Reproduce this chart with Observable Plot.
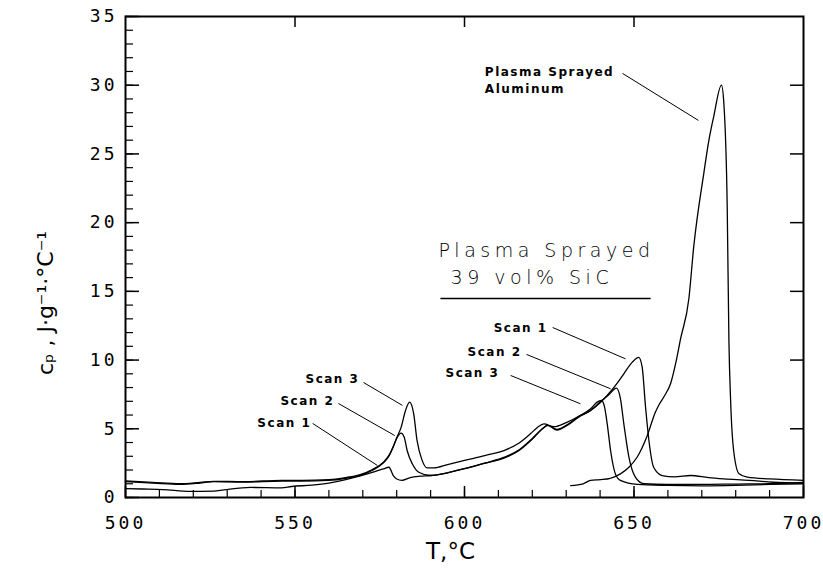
<!DOCTYPE html>
<html><head><meta charset="utf-8">
<script src="https://cdn.jsdelivr.net/npm/d3@7"></script>
<script src="https://cdn.jsdelivr.net/npm/@observablehq/plot@0.6"></script>
<style>body{margin:0;background:#fff}svg{display:block}</style>
</head><body><div id="chart"></div>
<script>
// Temperature (°C) and specific heat (J·g⁻¹·°C⁻¹)
const scan1T = [500,505,511,519,526,529,537,546,549,555,560,565,569,573,576,577.7,579,580,581.5,584,587,590,595,600,606,612,616,620,622.5,624.5,627.3,630,634,637,640,642,645,647,649.5,651.4,652.4,653.4,654.4,655.8,658.3,662,666.7,672,676.5,684,691,700];
const scan1Cp = [0.65,0.62,0.58,0.44,0.46,0.55,0.73,0.7,0.8,0.9,1.05,1.3,1.55,1.84,2.08,2.2,1.6,1.35,1.25,1.45,1.55,1.6,1.8,2.1,2.5,2.95,3.45,4.3,4.9,5.25,4.95,5.25,5.95,6.3,6.9,7.4,8.3,9.0,9.85,10.2,9.5,6.6,4.15,2.2,1.6,1.5,1.6,1.45,1.36,1.25,1.11,1.05];

const scan2T = [500,508,516,522,526,535,546,552,560,565,569,573,576,577.7,579,580,581.3,582.2,583.1,584.6,586.5,590,595,600,606,612,616,620,623,624.6,627.3,630,634,637,640,642.5,644.8,646,647,648.5,650.4,652.9,660,670,680,690,700];
const scan2Cp = [1.15,1.05,0.95,1.05,1.15,1.12,1.2,1.2,1.25,1.4,1.6,2.0,2.5,3.0,3.7,4.3,4.68,4.4,3.4,2.45,1.84,1.6,1.8,2.1,2.5,2.9,3.4,4.25,5.0,5.25,4.9,5.2,5.9,6.3,6.95,7.45,7.96,7.2,5.36,2.93,1.48,1.0,0.95,0.95,0.98,1.0,1.1];

const scan3T = [500,508,516,522,526,535,546,552,560,565,569,573,576,577.7,579.1,580.1,581.3,582.6,583.8,585,586,587.5,589,591,595,600,606,612,616,619.5,621.5,623.4,626.4,630,634,637.2,639.1,640.4,641.3,642.1,643.1,644.5,646,651,660,670,680,690,700];
const scan3Cp = [1.2,1.1,1.0,1.1,1.18,1.15,1.25,1.25,1.3,1.45,1.65,2.05,2.55,3.06,3.78,4.4,5.1,6.33,6.94,6.1,4.15,2.7,2.15,2.15,2.4,2.7,3.05,3.45,3.95,4.65,5.1,5.36,5.15,5.45,5.95,6.45,6.94,7.06,6.6,5.36,3.4,1.72,1.24,0.95,0.88,0.85,0.88,0.95,1.0];

const alT = [631.3,635,637.2,640,643,646,648.5,650.9,653.9,656.3,657.5,659,660.8,662.5,663.7,666.2,667.6,670.6,672.1,673.5,675.8,676.5,677.5,678,678.5,679.4,681,683.4,690,700];
const alCp = [0.87,1.0,1.24,1.3,1.4,1.72,2.2,2.93,4.5,6.2,6.8,7.4,8.3,10.0,11.5,14.5,18.2,23.6,26,27.7,30,28.7,21.1,11.4,7.06,3.4,1.72,1.48,1.35,1.25];

const xTicks = [500,550,600,650,700];
const yTicks = [0,5,10,15,20,25,30,35];
const xMinor = d3.range(500, 701, 10);
const yMinor = d3.range(0, 36, 1);

const rows = (series, T, cp) => T.map((t, i) => ({series, T: t, cp: cp[i]}));
const data = [
  ...rows("Scan 1", scan1T, scan1Cp),
  ...rows("Scan 2", scan2T, scan2Cp),
  ...rows("Scan 3", scan3T, scan3Cp),
  ...rows("Plasma Sprayed Aluminum", alT, alCp)
];

const blank = () => "";
const chart = Plot.plot({
  width: 823, height: 570,
  marginLeft: 125, marginRight: 20, marginTop: 16, marginBottom: 73,
  x: {domain: [500, 700], label: null},
  y: {domain: [0, 35], label: null},
  style: {fontFamily: "DejaVu Sans", background: "#fff", color: "#000"},
  marks: [
    // ticks
    Plot.axisY(yMinor, {tickSize: -8, tickFormat: blank, label: null, strokeWidth: 1.2}),
    Plot.axisY(yTicks, {tickSize: -14, tickFormat: blank, label: null, strokeWidth: 1.5}),
    Plot.axisY(yTicks, {tickSize: 0, tickPadding: 8, label: null, fontSize: 18, fontFamily: "DejaVu Sans Mono"}),
    Plot.axisY(yTicks.slice(1, -1), {anchor: "right", tickSize: -14, tickFormat: blank, label: null, strokeWidth: 1.5}),
    Plot.axisX(xMinor, {tickSize: -7, tickFormat: blank, label: null, strokeWidth: 1.2}),
    Plot.axisX(xTicks, {tickSize: -11, tickFormat: blank, label: null, strokeWidth: 1.5}),
    Plot.axisX(xTicks, {tickSize: 0, tickPadding: 19, label: null, fontSize: 18, fontFamily: "DejaVu Sans Mono"}),
    Plot.axisX(xTicks.slice(1, -1), {anchor: "top", tickSize: -10, tickFormat: blank, label: null, strokeWidth: 1.5}),
    Plot.frame({strokeWidth: 2}),
    // curves
    Plot.line(data, {x: "T", y: "cp", z: "series", stroke: "#000", strokeWidth: 1.3, curve: "monotone-x"}),
    // axis titles
    Plot.text(["cₚ , J·g⁻¹·°C⁻¹"], {frameAnchor: "left", textAnchor: "middle", lineAnchor: "middle", rotate: -90, dx: -80, dy: 46, fontSize: 22}),
    Plot.text(["T,°C"], {frameAnchor: "bottom", textAnchor: "middle", lineAnchor: "middle", dx: -14, dy: 54, fontSize: 23}),
    // main annotation
    Plot.text(["Plasma Sprayed"], {x: 592.3, y: 17.93, textAnchor: "start", fontSize: 19, fontWeight: 200}),
    Plot.text(["39 vol% SiC"], {x: 595.9, y: 15.99, textAnchor: "start", fontSize: 19, fontWeight: 200}),
    Plot.link([0], {x1: 592.9, x2: 654.9, y1: 14.48, y2: 14.48, stroke: "#000", strokeWidth: 1.5}),
    // aluminum label
    Plot.text(["Plasma Sprayed\nAluminum"], {x: 606, y: 31.0, textAnchor: "start", lineAnchor: "middle", lineHeight: 1.4, fontSize: 12, fontWeight: "bold", dy: 8}),
    Plot.link([0], {x1: 646.6, y1: 30.86, x2: 669.0, y2: 27.44, stroke: "#000", strokeWidth: 1}),
    // scan labels (high-temperature peaks)
    Plot.text(["Scan 1"], {x: 608.6, y: 12.3, textAnchor: "start", fontSize: 12, fontWeight: "bold"}),
    Plot.text(["Scan 2"], {x: 600.9, y: 10.55, textAnchor: "start", fontSize: 12, fontWeight: "bold"}),
    Plot.text(["Scan 3"], {x: 594.4, y: 9.02, textAnchor: "start", fontSize: 12, fontWeight: "bold"}),
    Plot.link([0], {x1: 626.0, y1: 12.37, x2: 647.5, y2: 10.09, stroke: "#000", strokeWidth: 1}),
    Plot.link([0], {x1: 618.3, y1: 10.41, x2: 643.1, y2: 7.91, stroke: "#000", strokeWidth: 1}),
    Plot.link([0], {x1: 613.6, y1: 8.88, x2: 634.2, y2: 6.82, stroke: "#000", strokeWidth: 1}),
    // scan labels (low-temperature peaks)
    Plot.text(["Scan 1"], {x: 538.9, y: 5.41, textAnchor: "start", fontSize: 12, fontWeight: "bold"}),
    Plot.text(["Scan 2"], {x: 545.7, y: 7.01, textAnchor: "start", fontSize: 12, fontWeight: "bold"}),
    Plot.text(["Scan 3"], {x: 553.1, y: 8.59, textAnchor: "start", fontSize: 12, fontWeight: "bold"}),
    Plot.link([0], {x1: 555.2, y1: 5.39, x2: 574.3, y2: 2.33, stroke: "#000", strokeWidth: 1}),
    Plot.link([0], {x1: 562.8, y1: 6.84, x2: 579.4, y2: 4.51, stroke: "#000", strokeWidth: 1}),
    Plot.link([0], {x1: 570.2, y1: 8.37, x2: 581.7, y2: 6.70, stroke: "#000", strokeWidth: 1})
  ]
});
document.getElementById("chart").appendChild(chart);
const svg = d3.select(chart.tagName.toLowerCase() === "svg" ? chart : chart.querySelector("svg"));
svg.selectAll('g[font-size="18"]').style("letter-spacing", "3px");
svg.selectAll('g[font-size="12"]').style("letter-spacing", "1.5px");
svg.selectAll('g[font-size="19"]').style("letter-spacing", "4.5px");
</script>
</body></html>
